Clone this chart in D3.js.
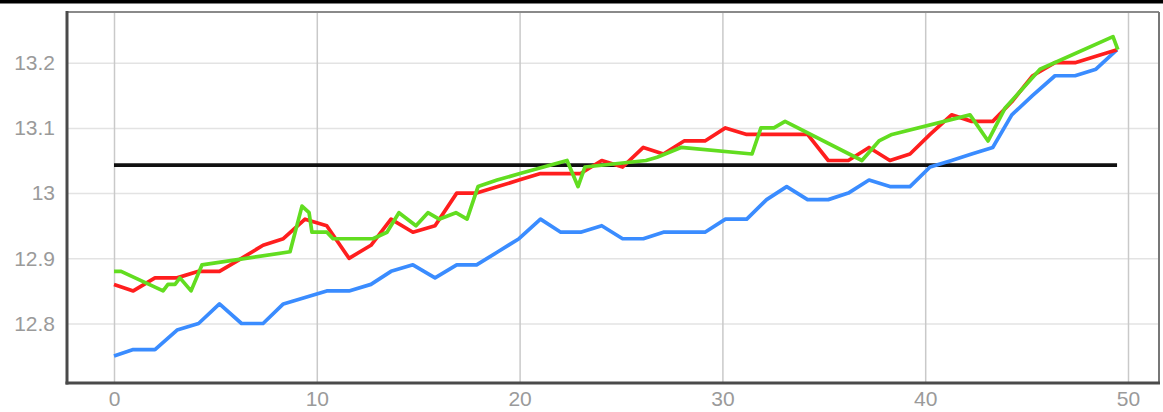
<!DOCTYPE html>
<html>
<head>
<meta charset="utf-8">
<script src="https://cdn.jsdelivr.net/npm/d3@7"></script>
<style>
  html, body { margin: 0; padding: 0; background: #fff; }
  svg { display: block; }
</style>
</head>
<body>
<svg id="chart" width="1163" height="412"></svg>
<script>
// Axis ticks
const xTickValues = [0, 10, 20, 30, 40, 50];
const xTickLabels = ["0", "10", "20", "30", "40", "50"];
const yTickValues = [12.8, 12.9, 13.0, 13.1, 13.2];
const yTickLabels = ["12.8", "12.9", "13", "13.1", "13.2"];

// Sample positions shared by the blue and red series
const sampleX = [0, 0.95, 2.02, 3.11, 4.17, 5.2, 6.29, 7.35, 8.35, 9.42,
  10.49, 11.59, 12.67, 13.66, 14.74, 15.83, 16.9, 17.88, 18.93, 19.97,
  21.03, 22.03, 23.01, 24.05, 25.08, 26.1, 27.09, 28.11, 29.14, 30.15,
  31.2, 32.18, 33.17, 34.2, 35.22, 36.21, 37.23, 38.26, 39.25, 40.24,
  41.3, 42.29, 43.33, 44.27, 45.3, 46.4, 47.39, 48.42, 49.46];

const blueValues = [12.75, 12.76, 12.76, 12.79, 12.80, 12.83, 12.80, 12.80, 12.83, 12.84,
  12.85, 12.85, 12.86, 12.88, 12.89, 12.87, 12.89, 12.89, 12.91, 12.93,
  12.96, 12.94, 12.94, 12.95, 12.93, 12.93, 12.94, 12.94, 12.94, 12.96,
  12.96, 12.99, 13.01, 12.99, 12.99, 13.00, 13.02, 13.01, 13.01, 13.04,
  13.05, 13.06, 13.07, 13.12, 13.15, 13.18, 13.18, 13.19, 13.22];

const redValues = [12.86, 12.85, 12.87, 12.87, 12.88, 12.88, 12.90, 12.92, 12.93, 12.96,
  12.95, 12.90, 12.92, 12.96, 12.94, 12.95, 13.00, 13.00, 13.01, 13.02,
  13.03, 13.03, 13.03, 13.05, 13.04, 13.07, 13.06, 13.08, 13.08, 13.10,
  13.09, 13.09, 13.09, 13.09, 13.05, 13.05, 13.07, 13.05, 13.06, 13.09,
  13.12, 13.11, 13.11, 13.14, 13.18, 13.20, 13.20, 13.21, 13.22];

// Green series has its own sample positions
const greenX = [0, 0.35, 2.42, 2.66, 3.01, 3.25, 3.8, 4.34, 8.68, 9.27,
  9.62, 9.76, 10.5, 10.8, 12.77, 13.46, 14.05, 14.89, 15.48, 16.03,
  16.86, 17.41, 17.95, 18.89, 20.02, 22.34, 22.88, 23.22, 26.23, 26.78,
  27.96, 31.46, 31.9, 32.54, 33.09, 36.88, 37.72, 38.36, 42.21, 43.1,
  43.93, 45.66, 49.26, 49.5];
const greenValues = [12.88, 12.88, 12.85, 12.86, 12.86, 12.87, 12.85, 12.89, 12.91, 12.98,
  12.97, 12.94, 12.94, 12.93, 12.93, 12.94, 12.97, 12.95, 12.97, 12.96,
  12.97, 12.96, 13.01, 13.02, 13.03, 13.05, 13.01, 13.04, 13.05, 13.055,
  13.07, 13.06, 13.10, 13.10, 13.11, 13.05, 13.08, 13.09, 13.12, 13.08,
  13.13, 13.19, 13.24, 13.22];

// Horizontal reference level
const refLevel = 13.043;
const refSpan = [0, 49.46];

const svg = d3.select("#chart");
const W = 1163, H = 412;
const box = { left: 67, right: 1159, top: 12, bottom: 383 };

const x = d3.scaleLinear().domain([0, 50]).range([114, 1128]);
const y = d3.scaleLinear().domain([12.8, 13.2]).range([323.5, 62.7]);

// Top rule
svg.append("rect").attr("x", 0).attr("y", 0).attr("width", W).attr("height", 3.5).attr("fill", "#000");

// Horizontal grid + y labels
const yAxis = d3.axisLeft(y)
  .tickValues(yTickValues)
  .tickSize(-(box.right - box.left))
  .tickPadding(12)
  .tickFormat((d, i) => yTickLabels[i]);
const gy = svg.append("g").attr("transform", `translate(${box.left},0)`).call(yAxis);
gy.select(".domain").remove();
gy.selectAll(".tick line").attr("stroke", "#e3e3e3").attr("stroke-width", 1.5);
gy.selectAll(".tick text")
  .attr("fill", "#9a9a9a")
  .style("font-family", "'Liberation Sans', Arial, sans-serif")
  .style("font-size", "21px");

// Vertical grid + x labels
const xAxis = d3.axisBottom(x)
  .tickValues(xTickValues)
  .tickSize(-(box.bottom - box.top))
  .tickPadding(8)
  .tickFormat((d, i) => xTickLabels[i]);
const gx = svg.append("g").attr("transform", `translate(0,${box.bottom})`).call(xAxis);
gx.select(".domain").remove();
gx.selectAll(".tick line").attr("stroke", "#c9c9c9").attr("stroke-width", 1.5);
gx.selectAll(".tick text")
  .attr("fill", "#9a9a9a")
  .style("font-family", "'Liberation Sans', Arial, sans-serif")
  .style("font-size", "21px");

// Frame
svg.append("line").attr("x1", box.left).attr("x2", box.right).attr("y1", box.top).attr("y2", box.top)
  .attr("stroke", "#8a8a8a").attr("stroke-width", 2);
svg.append("line").attr("x1", box.right).attr("x2", box.right).attr("y1", box.top).attr("y2", box.bottom)
  .attr("stroke", "#777").attr("stroke-width", 2);
svg.append("line").attr("x1", box.left).attr("x2", box.left).attr("y1", box.top - 1).attr("y2", box.bottom + 1.5)
  .attr("stroke", "#4a4a4a").attr("stroke-width", 3);
svg.append("line").attr("x1", box.left - 1.5).attr("x2", box.right + 1).attr("y1", box.bottom).attr("y2", box.bottom)
  .attr("stroke", "#4a4a4a").attr("stroke-width", 3);

// Reference level
svg.append("line")
  .attr("x1", x(refSpan[0])).attr("x2", x(refSpan[1]))
  .attr("y1", y(refLevel)).attr("y2", y(refLevel))
  .attr("stroke", "#111").attr("stroke-width", 3.8);

const line = d3.line().x(d => x(d[0])).y(d => y(d[1]));
function drawSeries(xs, vs, color) {
  svg.append("path")
    .datum(xs.map((v, i) => [v, vs[i]]))
    .attr("d", line)
    .attr("fill", "none")
    .attr("stroke", color)
    .attr("stroke-width", 3.7)
    .attr("stroke-linejoin", "round");
}
drawSeries(sampleX, blueValues, "#3a8cff");
drawSeries(sampleX, redValues, "#ff1e1e");
drawSeries(greenX, greenValues, "#62dd20");
</script>
</body>
</html>
